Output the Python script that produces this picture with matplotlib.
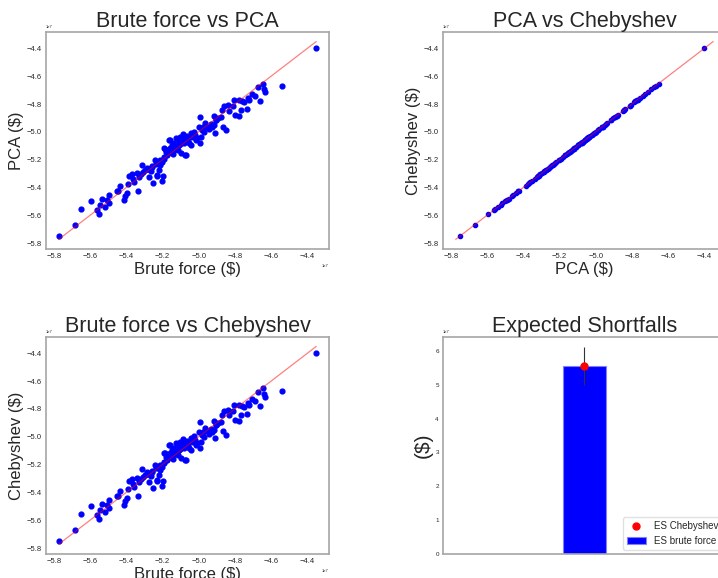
import numpy as np
import matplotlib
matplotlib.use("Agg")
import matplotlib.pyplot as plt

plt.rcParams['font.family'] = ['Liberation Sans', 'DejaVu Sans']
plt.rcParams['text.color'] = '#262626'
plt.rcParams['axes.labelcolor'] = '#262626'
plt.rcParams['xtick.color'] = '#262626'
plt.rcParams['ytick.color'] = '#262626'

# simulated portfolio losses, in units of 1e7 $
brute = [-5.772, -5.681, -5.648, -5.596, -5.561, -5.553, -5.544, -5.533, -5.516, -5.509,
         -5.496, -5.496, -5.450, -5.443, -5.433, -5.413, -5.407, -5.398, -5.388, -5.383,
         -5.370, -5.361, -5.357, -5.342, -5.335, -5.327, -5.318, -5.314, -5.305, -5.296,
         -5.286, -5.277, -5.264, -5.259, -5.253, -5.244, -5.234, -5.231, -5.220, -5.216,
         -5.212, -5.203, -5.197, -5.194, -5.190, -5.181, -5.171, -5.166, -5.160, -5.153,
         -5.147, -5.142, -5.138, -5.129, -5.125, -5.119, -5.114, -5.110, -5.105, -5.101,
         -5.095, -5.092, -5.086, -5.079, -5.073, -5.069, -5.064, -5.058, -5.051, -5.045,
         -5.042, -5.030, -5.027, -5.018, -5.008, -5.001, -4.995, -4.993, -4.984, -4.975,
         -4.967, -4.953, -4.943, -4.930, -4.916, -4.910, -4.903, -4.893, -4.878, -4.869,
         -4.865, -4.860, -4.850, -4.838, -4.832, -4.810, -4.804, -4.798, -4.780, -4.776,
         -4.767, -4.763, -4.749, -4.736, -4.730, -4.721, -4.708, -4.690, -4.674, -4.661,
         -4.643, -4.641, -4.632, -4.539, -4.352,
         -4.906, -4.916, -4.924, -5.156, -5.110, -5.091, -5.055, -5.036, -5.129, -5.147,
         -5.184, -5.194, -5.212, -5.205, -5.258, -5.268, -5.286, -5.073, -5.017, -4.971,
         -4.990, -5.230, -5.175, -5.135, -5.100, -5.082, -5.062, -5.160]

pca = [-5.747, -5.667, -5.554, -5.498, -5.561, -5.592, -5.525, -5.481, -5.542, -5.489,
       -5.457, -5.515, -5.428, -5.428, -5.387, -5.489, -5.460, -5.440, -5.373, -5.320,
       -5.305, -5.337, -5.361, -5.296, -5.423, -5.324, -5.305, -5.235, -5.288, -5.276,
       -5.257, -5.324, -5.283, -5.247, -5.368, -5.204, -5.228, -5.315, -5.276, -5.242,
       -5.204, -5.351, -5.317, -5.119, -5.180, -5.148, -5.155, -5.059, -5.119, -5.139,
       -5.095, -5.160, -5.083, -5.124, -5.047, -5.107, -5.131, -5.064, -5.090, -5.040,
       -5.151, -5.071, -5.015, -5.083, -5.054, -5.168, -5.030, -5.059, -5.078, -5.010,
       -5.095, -5.035, -4.998, -5.022, -5.047, -4.967, -4.895, -5.078, -4.987, -4.967,
       -4.938, -4.962, -4.982, -4.945, -4.885, -5.006, -4.914, -4.902, -4.895, -4.842,
       -4.962, -4.813, -4.987, -4.806, -4.847, -4.813, -4.774, -4.878, -4.885, -4.774,
       -4.842, -4.781, -4.789, -4.837, -4.757, -4.769, -4.728, -4.740, -4.677, -4.781,
       -4.653, -4.692, -4.713, -4.668, -4.400,
       -4.915, -4.951, -4.963, -5.060, -5.096, -5.072, -5.036, -5.023, -5.120, -5.144,
       -5.120, -5.192, -5.222, -5.217, -5.253, -5.277, -5.265, -5.168, -5.060, -5.000,
       -5.036, -5.313, -5.170, -5.110, -5.075, -5.045, -5.048, -5.135]

chebyshev = list(pca)

# expected shortfalls (1e7 $)
es_brute = 5.547
es_cheb = 5.556
es_cheb_err = 0.56

scale = 1e7
x_bf = np.array(brute) * scale
y_pca = np.array(pca) * scale
y_cheb = np.array(chebyshev) * scale
line = [x_bf.min(), x_bf.max()]

fig = plt.figure(figsize=(7.18, 5.78), dpi=100)

W, H = 0.394, 0.376
ax1 = fig.add_axes([0.0641, 0.569, W, H])
ax2 = fig.add_axes([0.617, 0.569, W, H])
ax3 = fig.add_axes([0.0641, 0.0415, W, H])
ax4 = fig.add_axes([0.617, 0.0415, W, H])


def style(ax):
    for s in ax.spines.values():
        s.set_color('0.65')
        s.set_linewidth(1.2)
    ax.tick_params(length=0, labelsize=5.5, pad=3)
    ax.xaxis.get_offset_text().set_fontsize(3)
    ax.yaxis.get_offset_text().set_fontsize(3)


# Brute force vs PCA
ax1.scatter(x_bf, y_pca, s=12, color='blue', zorder=2)
ax1.plot(line, line, color='red', alpha=0.5, lw=0.9, zorder=3)
ax1.set_title('Brute force vs PCA', fontsize=15.5, pad=2)
ax1.set_xlabel('Brute force ($)', fontsize=12, labelpad=1)
ax1.set_ylabel('PCA ($)', fontsize=12, labelpad=2)
style(ax1)

# PCA vs Chebyshev
ax2.scatter(y_pca, y_cheb, s=9, color='blue', zorder=2)
ax2.plot(line, line, color='red', alpha=0.5, lw=0.9, zorder=3)
ax2.set_title('PCA vs Chebyshev', fontsize=15.5, pad=2)
ax2.set_xlabel('PCA ($)', fontsize=12, labelpad=1)
ax2.set_ylabel('Chebyshev ($)', fontsize=12, labelpad=2)
style(ax2)

# Brute force vs Chebyshev
ax3.scatter(x_bf, y_cheb, s=12, color='blue', zorder=2)
ax3.plot(line, line, color='red', alpha=0.5, lw=0.9, zorder=3)
ax3.set_title('Brute force vs Chebyshev', fontsize=15.5, pad=2)
ax3.set_xlabel('Brute force ($)', fontsize=12, labelpad=1)
ax3.set_ylabel('Chebyshev ($)', fontsize=12, labelpad=2)
style(ax3)

# Expected Shortfalls
ax4.bar([0], [es_brute * scale], width=0.3, color='blue', edgecolor='#8080ff',
        linewidth=0.8, label='ES brute force')
ax4.errorbar([0], [es_cheb * scale], yerr=[es_cheb_err * scale], fmt='none',
             ecolor='#333333', elinewidth=0.8, zorder=3)
ax4.plot([0], [es_cheb * scale], 'o', color='red', markersize=5,
         label='ES Chebyshev', zorder=4)
ax4.set_xlim(-1, 1)
ax4.set_xticks([])
ax4.set_title('Expected Shortfalls', fontsize=15.5, pad=2)
ax4.set_ylabel('($)', fontsize=15, labelpad=2)
style(ax4)
ax4.tick_params(labelsize=4.5)
leg = ax4.legend(loc='lower right', fontsize=7, frameon=True,
                 edgecolor='0.85', fancybox=True, borderaxespad=0.4)

fig.savefig('out.png', dpi=100)
